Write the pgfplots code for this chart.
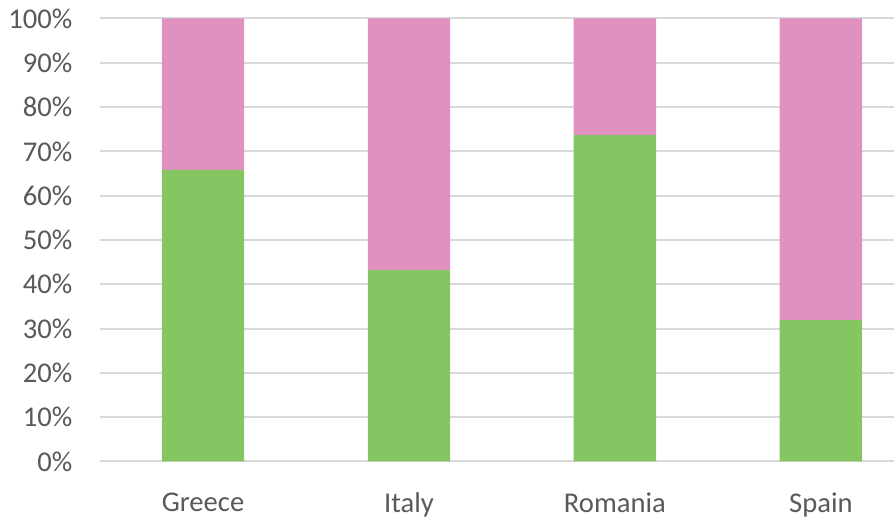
\documentclass[border=0pt]{standalone}
\usepackage{fontspec}
\setmainfont{Carlito}
\usepackage{pgfplots}
\pgfplotsset{compat=1.18}
\definecolor{barGreen}{HTML}{86C662}
\definecolor{barPink}{HTML}{E091BF}
\definecolor{gridGray}{HTML}{D9D9D9}
\definecolor{txtGray}{HTML}{595959}
\begin{document}
\begin{tikzpicture}
\path[use as bounding box] (-50pt,-28.25pt) rectangle (397pt,230.75pt);
\begin{axis}[
  at={(0pt,0pt)}, anchor=south west,
  scale only axis,
  width=397pt, height=221.5pt,
  ybar stacked,
  bar width=0.4,
  xmin=-0.5, xmax=3.355,
  ymin=0, ymax=100,
  ytick={0,10,...,100},
  xtick=data,
  xticklabels={Greece,Italy,Romania,Spain},
  yticklabel={\pgfmathprintnumber{\tick}\%},
  /pgf/number format/assume math mode=true,
  ymajorgrids,
  major grid style={draw=gridGray, line width=1pt},
  axis line style={draw=none},
  major tick style={draw=none},
  tick label style={font=\fontsize{14.3}{17}\selectfont, text=txtGray},
  yticklabel style={anchor=east, inner sep=0pt, xshift=-13.6pt},
  xticklabel style={anchor=north, inner sep=0pt, yshift=-15.5pt},
  clip=false,
]
\addplot[fill=barGreen, draw=none] coordinates {(0,65.8) (1,43.2) (2,73.7) (3,31.9)};
\addplot[fill=barPink, draw=none] coordinates {(0,34.2) (1,56.8) (2,26.3) (3,68.1)};
\end{axis}
\end{tikzpicture}
\end{document}
